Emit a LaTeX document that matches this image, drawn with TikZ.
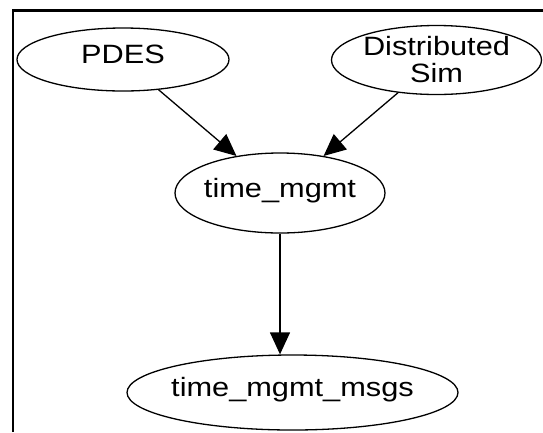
\documentclass[tikz,border=0pt]{standalone}
\usepackage{tikz}
\usepackage{xcolor}
\usepackage{fontspec}
\setmainfont{Liberation Sans}[FakeStretch=1.16]
\usetikzlibrary{shapes.geometric,arrows.meta}

\tikzset{
	gnode/.style={draw,ellipse,line width=1.3pt,inner sep=0pt,font=\fontsize{26.5}{27}\selectfont},
	gtext/.style={text height=19pt,text depth=11pt},
	gedge/.style={line width=1.3pt,-{Triangle[length=22pt,width=20pt]}}
}

\begin{document}
\begin{tikzpicture}[x=1pt,y=-1pt]
			\useasboundingbox (0,0) rectangle (543,432);
			\draw[line width=2.5pt] (13,432) -- (13,10.5) -- (543,10.5);
			\node[gnode,gtext,minimum width=212pt,minimum height=63pt] (pdes) at (123,59.5) {PDES};
			\node[gnode,align=center,minimum width=210pt,minimum height=69pt] (distsim) at (436.5,60) {Distributed\\Sim};
			\node[gnode,gtext,inner xsep=-2pt,minimum width=210pt,minimum height=80pt] (tmgmt) at (280,193) {time\_mgmt};
			\node[gnode,gtext,inner xsep=-6pt,minimum width=331pt,minimum height=75pt] (tmsgs) at (292.5,392.5) {time\_mgmt\_msgs};
			\draw[gedge] (pdes) -- (tmgmt);
			\draw[gedge] (distsim) -- (tmgmt);
			\draw[gedge] (tmgmt.south) -- (tmgmt.south |- tmsgs.north);
		\end{tikzpicture}
\end{document}
